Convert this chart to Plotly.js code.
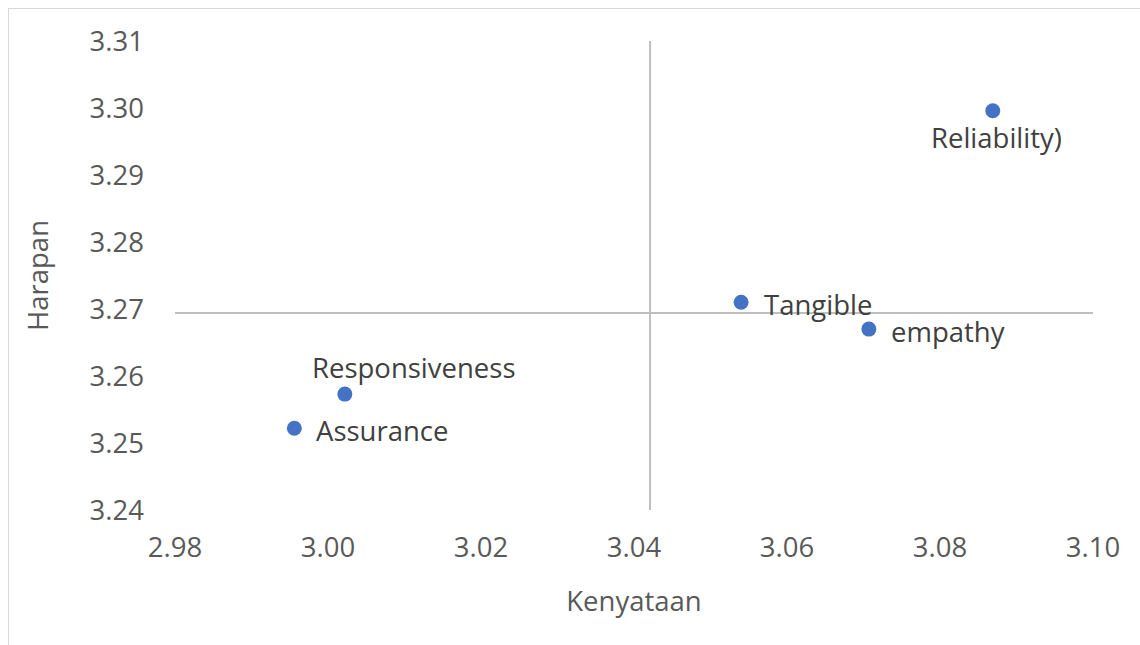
<!DOCTYPE html>
<html>
<head>
<meta charset="utf-8">
<script src="https://cdn.plot.ly/plotly-3.0.1.min.js"></script>
<style>
  html, body { margin: 0; padding: 0; background: #ffffff; }
  #frame { position: absolute; left: 8px; top: 8px; width: 1132px; height: 637px;
           border-left: 1px solid #d9d9d9; border-top: 1px solid #d9d9d9; box-sizing: border-box; }
  #chart { position: absolute; left: 0; top: 0; width: 1140px; height: 645px; }
</style>
</head>
<body>
<div id="frame"></div>
<div id="chart"></div>
<script>
// Data
const dimensions = ["Reliability)", "Tangible", "empathy", "Responsiveness", "Assurance"];
const kenyataan = [3.0869, 3.0540, 3.0707, 3.0022, 2.9956];
const harapan   = [3.2996, 3.2710, 3.2670, 3.2573, 3.2522];
const xTicks = [2.98, 3.00, 3.02, 3.04, 3.06, 3.08, 3.10];
const yTicks = [3.24, 3.25, 3.26, 3.27, 3.28, 3.29, 3.30, 3.31];
const crossX = 3.0421;  // mean Kenyataan (vertical divider)
const crossY = 3.2694;  // mean Harapan (horizontal divider)

// Label placement (style)
const labelStyle = {
  "Reliability)":   {xanchor: "center", yanchor: "top",    xshift: 4,  yshift: -6},
  "Tangible":       {xanchor: "left",   yanchor: "middle", xshift: 21, yshift: -2},
  "empathy":        {xanchor: "left",   yanchor: "middle", xshift: 20, yshift: -2},
  "Responsiveness": {xanchor: "center", yanchor: "bottom", xshift: 69, yshift: 6},
  "Assurance":      {xanchor: "left",   yanchor: "middle", xshift: 20, yshift: -2}
};

const font = "Open Sans, sans-serif";
const fs = 27.5;

const trace = {
  x: kenyataan, y: harapan, type: "scatter", mode: "markers",
  marker: {color: "#4472C4", size: 15},
  hoverinfo: "skip", showlegend: false
};

const annotations = dimensions.map((d, i) => Object.assign({
  x: kenyataan[i], y: harapan[i], xref: "x", yref: "y", text: d, showarrow: false,
  font: {family: font, size: fs, color: "#404040"}
}, labelStyle[d]));

const layout = {
  width: 1140, height: 645,
  margin: {l: 175, r: 47, t: 41, b: 135},
  paper_bgcolor: "rgba(0,0,0,0)", plot_bgcolor: "rgba(0,0,0,0)",
  font: {family: font, size: fs, color: "#595959"},
  xaxis: {
    range: [2.98, 3.10], tickvals: xTicks, ticktext: xTicks.map(v => v.toFixed(2)),
    showgrid: false, zeroline: false, showline: false, ticks: "",
    ticklabelstandoff: 18,
    title: {text: "Kenyataan", font: {family: font, size: fs, color: "#595959"}, standoff: 28}
  },
  yaxis: {
    range: [3.24, 3.31], tickvals: yTicks, ticktext: yTicks.map(v => v.toFixed(2)),
    showgrid: false, zeroline: false, showline: false, ticks: "",
    ticklabelstandoff: 30,
    title: {text: "Harapan", font: {family: font, size: fs, color: "#595959"}, standoff: 32}
  },
  shapes: [
    {type: "line", xref: "x", yref: "y", x0: crossX, x1: crossX, y0: 3.24, y1: 3.31,
     line: {color: "#bfbfbf", width: 2}, layer: "below"},
    {type: "line", xref: "x", yref: "y", x0: 2.98, x1: 3.10, y0: crossY, y1: crossY,
     line: {color: "#bfbfbf", width: 2}, layer: "below"}
  ],
  annotations: annotations
};

Plotly.newPlot("chart", [trace], layout, {displayModeBar: false, staticPlot: true});
</script>
</body>
</html>
